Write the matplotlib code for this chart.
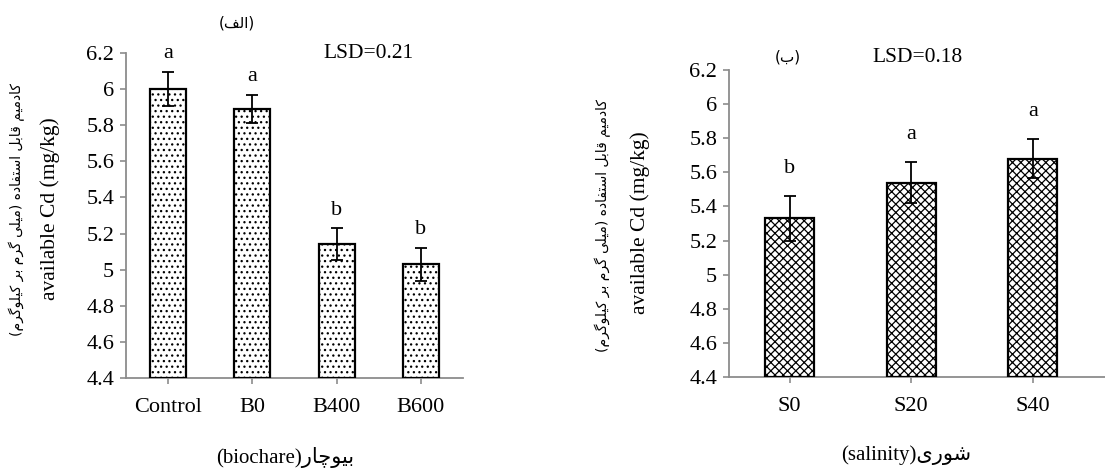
import matplotlib
matplotlib.use('Agg')
import matplotlib.pyplot as plt

plt.rcParams['font.family'] = ['Liberation Serif', 'DejaVu Sans']
plt.rcParams['hatch.linewidth'] = 0.9

# biochar treatments
biochar_cats = ['Control', 'B0', 'B400', 'B600']
biochar_vals = [6.00, 5.89, 5.14, 5.03]
biochar_err  = [0.095, 0.078, 0.088, 0.092]
biochar_grp  = ['a', 'a', 'b', 'b']

# salinity levels
salt_cats = ['S0', 'S20', 'S40']
salt_vals = [5.33, 5.54, 5.68]
salt_err  = [0.13, 0.12, 0.115]
salt_grp  = ['b', 'a', 'a']

yticks = [4.4, 4.6, 4.8, 5, 5.2, 5.4, 5.6, 5.8, 6, 6.2]
ytick_labels = ['4.4', '4.6', '4.8', '5', '5.2', '5.4', '5.6', '5.8', '6', '6.2']

# persian strings written out in shaped (presentation) form, visual order
ylab_fa = ('(\uFEE1\uFEAE\uFB94\uFEEE\uFEE0\uFBFF\uFB90 \uFEAE\uFE91 \uFEE1\uFEAE\uFB94 '
           '\uFBFD\uFEE0\uFBFF\uFEE3) \uFEE9\uFEA9\uFE8E\uFED4\uFE98\uFEB3\uFE8D '
           '\uFEDE\uFE91\uFE8E\uFED7 \uFEE2\uFBFF\uFEE3\uFEA9\uFE8E\uFB90')
ylab_en = 'available Cd (mg/kg)'
title_a = '(\uFED2\uFEDF\uFE8D)'
title_b = '(\uFE8F)'
xlab_a = '(biochare)\uFEAD\uFE8E\uFB7C\uFEEE\uFBFF\uFE91'
xlab_b = '(salinity)\uFBFC\uFEAD\uFEEE\uFEB7'

W, H = 1105, 470
fig = plt.figure(figsize=(W / 100, H / 100), dpi=100)


def px(x, y):
    return x / W, 1 - y / H


def panel(rect, cats, vals, errs, grp, hatch, width, letter_off, xmax):
    ax = fig.add_axes(rect)
    pos = list(range(len(cats)))
    ax.bar(pos, [v - 4.4 for v in vals], bottom=4.4, width=width, color='white',
           edgecolor='black', linewidth=1.6, hatch=hatch, zorder=2)
    ax.errorbar(pos, vals, yerr=errs, fmt='none', ecolor='black', elinewidth=1.3,
                capsize=4, capthick=1.3, zorder=3)
    for p, v, e, g in zip(pos, vals, errs, grp):
        ax.annotate(g, (p, v + e), xytext=(0, letter_off), textcoords='offset points',
                    ha='center', va='center', fontsize=16)
    ax.set_ylim(4.4, 6.2)
    ax.set_xlim(-0.5, xmax)
    ax.set_yticks(yticks)
    ax.set_yticklabels(ytick_labels)
    ax.set_xticks(pos)
    ax.set_xticklabels(cats)
    for s in ['top', 'right']:
        ax.spines[s].set_visible(False)
    for s in ['left', 'bottom']:
        ax.spines[s].set_color('#8c8c8c')
        ax.spines[s].set_linewidth(1.3)
        ax.spines[s].set_zorder(1)
    ax.tick_params(axis='both', direction='out', length=4.5, width=1.2, color='#8c8c8c',
                   labelsize=16, pad=4)
    ax.tick_params(axis='x', pad=10)
    ax.patch.set_visible(False)
    return ax


# (a) biochar
panel([126 / W, (H - 378) / H, 337 / W, 325 / H], biochar_cats, biochar_vals, biochar_err,
      biochar_grp, '...', 0.43, 13, 3.5)
# (b) salinity
panel([729 / W, (H - 377) / H, 376 / W, 307 / H], salt_cats, salt_vals, salt_err,
      salt_grp, 'xxxx', 0.40, 20, 2.595)

fa = ['DejaVu Sans']
fig.text(*px(368, 53), 'LSD=0.21', ha='center', va='center', fontsize=15.5)
fig.text(*px(918, 57), 'LSD=0.18', ha='center', va='center', fontsize=15.5)
fig.text(*px(237, 23), title_a, ha='center', va='center', fontsize=11, family=fa)
fig.text(*px(788, 57), title_b, ha='center', va='center', fontsize=11, family=fa)

fig.text(*px(17, 210), ylab_fa, rotation=90, ha='center', va='center', fontsize=10, family=fa)
fig.text(*px(50, 209), ylab_en, rotation=90, ha='center', va='center', fontsize=15.5)
fig.text(*px(603, 225), ylab_fa, rotation=90, ha='center', va='center', fontsize=10, family=fa)
fig.text(*px(640, 223), ylab_en, rotation=90, ha='center', va='center', fontsize=15.5)

fig.text(*px(285, 457), xlab_a, ha='center', va='center', fontsize=15)
fig.text(*px(906, 455), xlab_b, ha='center', va='center', fontsize=15)

fig.savefig('out.png', dpi=100)
